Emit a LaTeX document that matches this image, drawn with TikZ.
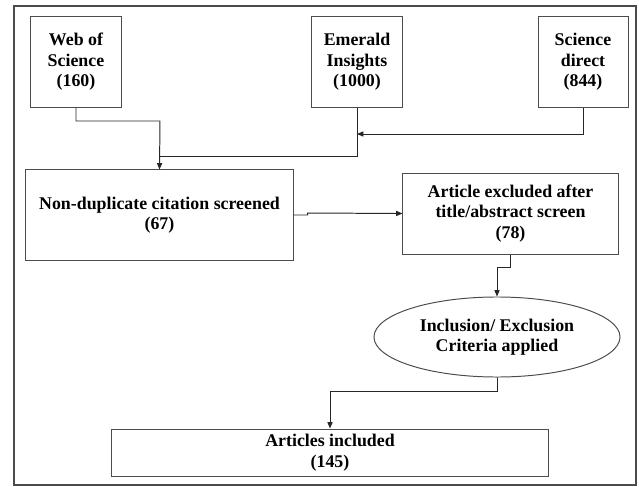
\documentclass[tikz,border=0pt]{standalone}
\usepackage{fontspec}
\setmainfont{Liberation Serif}
\usepackage{tikz}
\usetikzlibrary{arrows.meta,calc,positioning,shapes.geometric}
\usepackage{xcolor}

\begin{document}
\begin{tikzpicture}[
    x=.025cm,y=-.025cm,
    bx/.style={rectangle,draw=black!70,line width=.7pt,align=center,inner sep=0pt,
      font=\fontsize{12.7}{14.6}\selectfont\bfseries},
    ov/.style={ellipse,draw=black!70,line width=.7pt,align=center,inner sep=0pt,
      font=\fontsize{12.7}{14.6}\selectfont\bfseries},
    e/.style={-{Triangle[length=1.6mm,width=1.3mm]},line width=.7pt,black!85},
    ln/.style={line width=.7pt,black!85}
  ]
    \useasboundingbox (0,0) rectangle (639,487);
    \draw[black!70,line width=.8pt] (14,6) rectangle (636,485);
    % sources
    \node[bx,minimum width=2.25cm,minimum height=2.25cm] (wos) at (76,62) {Web of\\Science\\(160)};
    \node[bx,minimum width=2.25cm,minimum height=2.25cm] (emer) at (357,62) {Emerald\\Insights\\(1000)};
    \node[bx,minimum width=2.25cm,minimum height=2.25cm] (sd) at (583,62) {Science\\direct\\(844)};
    % screening
    \node[bx,minimum width=6.675cm,minimum height=2.25cm] (nondup) at (159.5,215) {Non-duplicate citation screened\\(67)};
    \node[bx,minimum width=5.375cm,minimum height=2.025cm] (excl) at (510.5,213.5) {Article excluded after\\title/abstract screen\\(78)};
    \node[ov,minimum width=6.15cm,minimum height=2cm] (incl) at (497,337) {Inclusion/ Exclusion\\Criteria applied};
    \node[bx,minimum width=10.9cm,minimum height=1.175cm] (arts) at (330,452.5) {Articles included\\(145)};
    % joins
    \coordinate (j1) at (160,121); \coordinate (j2) at (160,156); \coordinate (j3) at (357,134);
    \coordinate (j4) at (497,267); \coordinate (j5) at (330,391);
    \draw[e] (wos.south) |- (j1) -- (nondup.north);
    \draw[ln] (emer.south) |- (j2);
    \draw[e] (sd.south) |- (j3);
    \draw[e] (nondup.east) -- ++(14,0) -- ++(0,-2) -- (excl.west);
    \draw[e] (excl.south) |- (j4) -- (incl.north);
    \draw[e] (incl.south) |- (j5) -- (arts.north);
  \end{tikzpicture}
\end{document}
